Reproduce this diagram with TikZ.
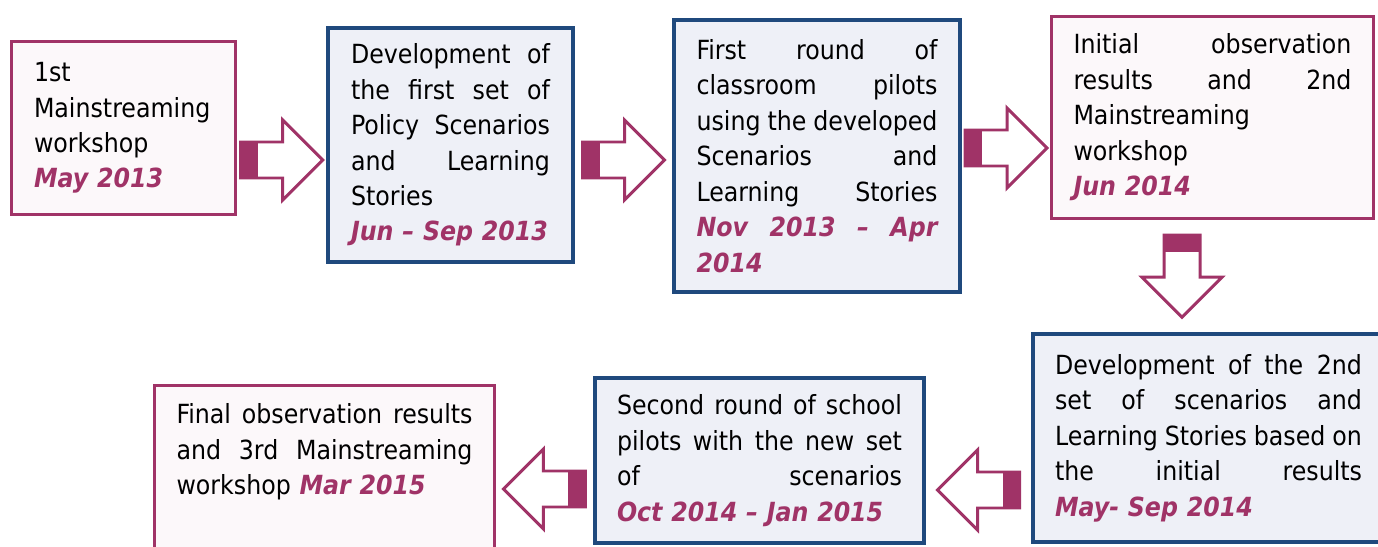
\documentclass[tikz,border=0pt]{standalone}
\usepackage{fontspec}
\setmainfont{DejaVu Sans Condensed}
\usepackage{xcolor}
\definecolor{plum}{RGB}{160,51,103}
\definecolor{navy}{RGB}{31,73,125}
\definecolor{pinkfill}{RGB}{252,248,250}
\definecolor{bluefill}{RGB}{238,240,247}
\usepackage{tikz}
\usetikzlibrary{calc}

\newcommand{\when}[1]{\textcolor{plum}{\bfseries\itshape #1}}
\newcommand{\gap}{\nobreak\hskip 0.2em plus 1fill\relax\ignorespaces}

\begin{document}
\begin{tikzpicture}[x=0.02cm, y=-0.02cm,
    stage/.style={rectangle, align=left, inner xsep=0.44cm, font=\fontsize{15}{20.2}\selectfont},
    pinkbox/.style={stage, draw=plum, fill=pinkfill, line width=1.7pt},
    bluebox/.style={stage, draw=navy, fill=bluefill, line width=2.4pt},
    arrowline/.style={draw=plum, fill=white, line width=1.7pt},
    blockarr/.pic={
      \filldraw[arrowline] (-41,-18) -- (1,-18) -- (1,-40) -- (41,0) -- (1,40) -- (1,18) -- (-41,18) -- cycle;
      \fill[plum] (-41,-18) rectangle (-24,18);
    }]
  \useasboundingbox (0,0) rectangle (1378,547);

  % top row
  \node[pinkbox, text width=3.58cm, minimum width=4.5cm, minimum height=3.48cm] (workshop1) at (123.5,128)
    {1st\\Mainstreaming\\workshop\\\when{May 2013}};
  \node[bluebox, text width=3.98cm, minimum width=4.9cm, minimum height=4.68cm] (scenarios1) at (450.5,145)
    {Development\gap of\\the\gap first\gap set\gap of\\Policy\gap Scenarios\\and\gap Learning\\Stories\\\when{Jun – Sep 2013}};
  \node[bluebox, text width=4.82cm, minimum width=5.72cm, minimum height=5.44cm] (pilots1) at (817,156)
    {First\gap round\gap of\\classroom\gap pilots\\using\gap the\gap developed\\Scenarios\gap and\\Learning\gap Stories\\\when{Nov\gap 2013\gap –\gap Apr}\\\when{2014}};
  \node[pinkbox, text width=5.56cm, minimum width=6.42cm, minimum height=4.06cm] (results1) at (1212.5,117.5)
    {Initial\gap observation\\results\gap and\gap 2nd\\Mainstreaming\\workshop\\\when{Jun 2014}};

  % bottom row
  \node[bluebox, text width=6.14cm, minimum width=7.02cm, minimum height=4.16cm] (scenarios2) at (1208.5,438)
    {Development\gap of\gap the\gap 2nd\\set\gap of\gap scenarios\gap and\\Learning\gap Stories\gap based\gap on\\the\gap initial\gap results\\\when{May- Sep 2014}};
  \node[bluebox, text width=5.70cm, minimum width=6.58cm, minimum height=3.3cm] (pilots2) at (759.5,460.5)
    {Second\gap round\gap of\gap school\\pilots\gap with\gap the\gap new\gap set\\of\gap scenarios\\\when{Oct 2014 – Jan 2015}};
  \node[pinkbox, text width=5.92cm, minimum width=6.78cm, inner ysep=0.36cm, anchor=north] (results2) at (324.5,384)
    {Final\gap observation\gap results\\and\gap 3rd\gap Mainstreaming\\workshop \when{Mar 2015}\\[1.9cm]\mbox{}};

  % block arrows
  \pic at ($(workshop1.east |- 0,160)!.5!(scenarios1.west |- 0,160)$) {blockarr};
  \pic at ($(scenarios1.east |- 0,160)!.5!(pilots1.west |- 0,160)$) {blockarr};
  \pic at ($(pilots1.east |- 0,148)!.5!(results1.west |- 0,148)$) {blockarr};
  \pic[rotate=-90] at ($(results1.south -| 1182,0)!.5!(scenarios2.north -| 1182,0)$) {blockarr};
  \pic[rotate=180] at ($(scenarios2.west |- 0,490)!.5!(pilots2.east |- 0,490)$) {blockarr};
  \pic[rotate=180] at ($(pilots2.west |- 0,489)!.5!(results2.east |- 0,489)$) {blockarr};
\end{tikzpicture}
\end{document}
